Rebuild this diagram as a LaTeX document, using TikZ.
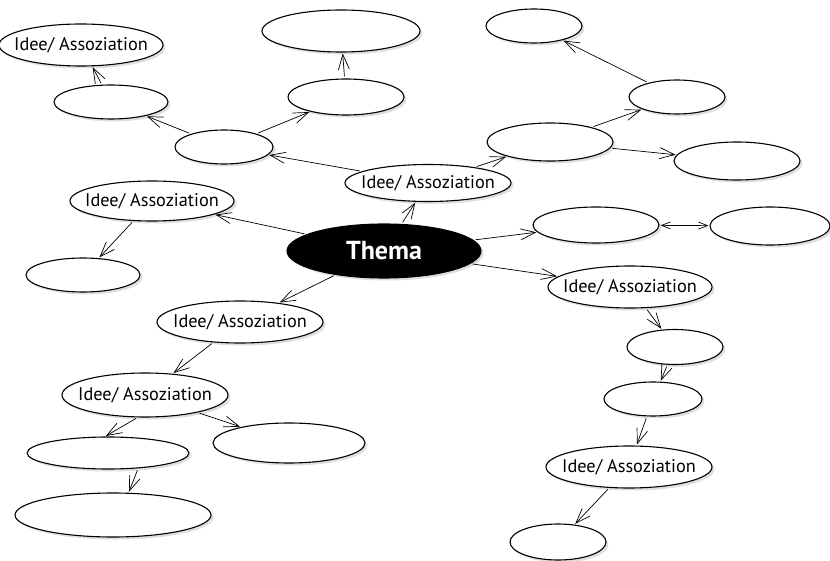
\documentclass[tikz,border=0pt]{standalone}
\usepackage{fontspec}
\setmainfont{PT Sans}
\usetikzlibrary{shapes.geometric,arrows.meta,shadows}
\begin{document}
\begin{tikzpicture}[x=1pt,y=-1pt,
  bub/.style={ellipse,draw=black,line width=1.1pt,fill=white,inner sep=0pt,
    drop shadow={shadow xshift=2.5pt,shadow yshift=-2.5pt,fill=gray!35,opacity=0.7}},
  idea/.style={bub,label={[font=\fontsize{18.3}{18.3}\selectfont,inner sep=0pt]center:Idee/ Assoziation}},
  sz/.style 2 args={minimum width=#1pt,minimum height=#2pt},
  conn/.style={line width=0.7pt,shorten <=2pt,shorten >=1pt,
    -{Straight Barb[length=15pt,width=11pt,line width=0.7pt]}},
  bconn/.style={line width=0.7pt,shorten <=1pt,shorten >=1pt,
    {Straight Barb[length=9pt,width=7pt,line width=0.7pt]}-{Straight Barb[length=9pt,width=7pt,line width=0.7pt]}}
]
\useasboundingbox (0,0) rectangle (830,561);
\node[idea,sz={164}{42}] (n1) at (81,45) {};
\node[bub,sz={114}{34}] (n2) at (111,102) {};
\node[bub,sz={98}{34}] (n3) at (224,147) {};
\node[bub,sz={158}{42}] (n4) at (341,31) {};
\node[bub,sz={116}{36}] (n5) at (346,97) {};
\node[idea,sz={166}{37}] (n6) at (428,183) {};
\node[bub,sz={96}{34}] (n7) at (534,26) {};
\node[bub,sz={96}{34}] (n8) at (677,97) {};
\node[bub,sz={126}{38}] (n9) at (550,142) {};
\node[bub,sz={126}{38}] (n10) at (737,161) {};
\node[idea,sz={164}{40}] (n11) at (152,201) {};
\node[bub,sz={114}{34}] (n12) at (83,275) {};
\node[ellipse,draw=black,fill=black,line width=1.1pt,inner sep=0pt,sz={194}{54},
  drop shadow={shadow xshift=2.5pt,shadow yshift=-2.5pt,fill=gray!35,opacity=0.7},
  label={[text=white,font=\fontsize{26}{26}\selectfont\bfseries,inner sep=0pt]center:Thema}] (th) at (384,251) {};
\node[bub,sz={126}{36}] (n14) at (596,225) {};
\node[bub,sz={120}{38}] (n15) at (770,226) {};
\node[idea,sz={164}{42}] (n16) at (630,287) {};
\node[bub,sz={96}{35}] (n17) at (675,347) {};
\node[bub,sz={98}{34}] (n18) at (653,399) {};
\node[idea,sz={166}{42}] (n19) at (629,467) {};
\node[bub,sz={96}{36}] (n20) at (558,542) {};
\node[idea,sz={166}{42}] (n21) at (240,322) {};
\node[idea,sz={166}{44}] (n22) at (145,395) {};
\node[bub,sz={162}{32}] (n23) at (108,453) {};
\node[bub,sz={196}{44}] (n24) at (113,515) {};
\node[bub,sz={152}{40}] (n25) at (289,443) {};

\draw[conn] (th) -- (n11);
\draw[conn] (th) -- (n6);
\draw[conn] (th) -- (n14);
\draw[conn] (th) -- (n16);
\draw[conn] (th) -- (n21);
\draw[conn] (n6) -- (n3);
\draw[conn] (n3) -- (n2);
\draw[conn] (n2) -- (n1);
\draw[conn] (n3) -- (n5);
\draw[conn] (n5) -- (n4);
\draw[conn] (n6) -- (n9);
\draw[conn] (n9) -- (n8);
\draw[conn] (n8) -- (n7);
\draw[conn] (n9) -- (n10);
\draw[bconn] (n14) -- (n15);
\draw[conn] (n16) -- (n17);
\draw[conn] (n17) -- (n18);
\draw[conn] (n18) -- (n19);
\draw[conn] (n19) -- (n20);
\draw[conn] (n11) -- (n12);
\draw[conn] (n21) -- (n22);
\draw[conn] (n22.252) -- (n23.100);
\draw[conn] (n22) -- (n25);
\draw[conn] (n23.333) -- (n24.55);
\end{tikzpicture}
\end{document}
